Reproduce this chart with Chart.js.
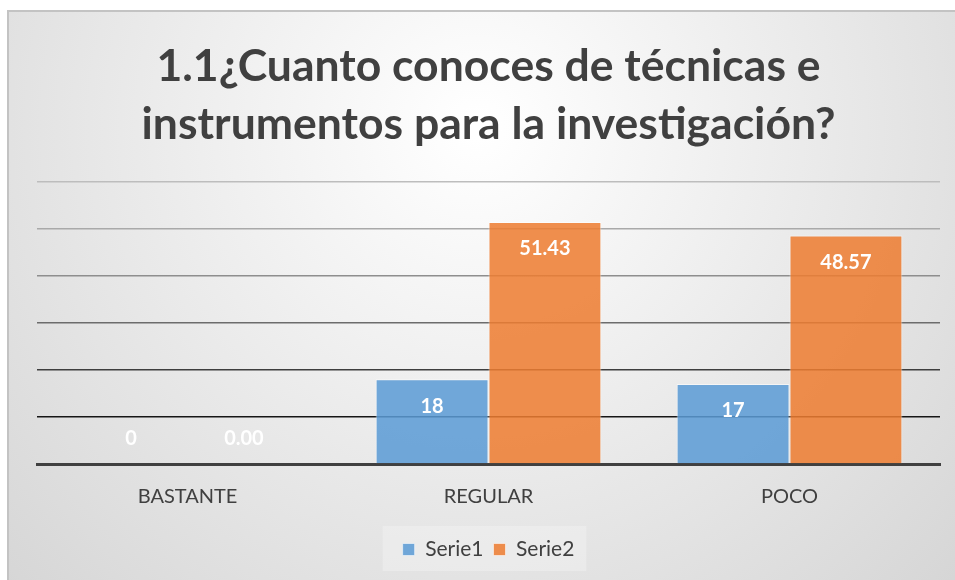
<!DOCTYPE html>
<html>
<head>
<meta charset="utf-8">
<script src="https://cdn.jsdelivr.net/npm/chart.js@4.4.1/dist/chart.umd.min.js"></script>
<style>
html, body { margin: 0; padding: 0; background: #fff; }
#wrap { width: 955px; height: 580px; }
</style>
</head>
<body>
<div id="wrap"><canvas id="myChart"></canvas></div>
<script>
var categories = ["BASTANTE", "REGULAR", "POCO"];
var serie1 = [0, 18, 17];
var serie2 = [0, 51.43, 48.57];
var yMax = 60;
var yStep = 10;
// gridline shade per tick value 0..60 (darker near the bottom)
var gridColors = ["rgba(0,0,0,0)", "#161616", "#3e3e3e", "#6c6c6c", "#8e8e8e", "#a9a9a9", "#bdbdbd"];

var textColor = "#404040";
var fontName = "Lato, 'Open Sans', sans-serif";

// background panel with a soft radial gradient and the thin frame
var panelBg = {
    id: "panelBg",
    beforeDraw: function(chart){
        var ctx = chart.ctx;
        var w = chart.width, h = chart.height;
        ctx.save();
        ctx.fillStyle = "#ffffff";
        ctx.fillRect(0, 0, w, h);
        var g = ctx.createRadialGradient(w * 0.5, h * 0.22, 10, w * 0.5, h * 0.22, w * 0.72);
        g.addColorStop(0, "#ffffff");
        g.addColorStop(1, "#d4d4d4");
        ctx.fillStyle = g;
        ctx.fillRect(7, 10, w, h);
        ctx.strokeStyle = "#c3c3c3";
        ctx.lineWidth = 2;
        ctx.beginPath();
        ctx.moveTo(8, h);
        ctx.lineTo(8, 11);
        ctx.lineTo(w, 11);
        ctx.stroke();
        // light box behind the legend
        var lg = chart.legend;
        if(lg && lg.legendHitBoxes && lg.legendHitBoxes.length){
            var hb = lg.legendHitBoxes;
            var l = hb[0].left, r = hb[hb.length - 1].left + hb[hb.length - 1].width;
            var t = hb[0].top, b = hb[0].top + hb[0].height;
            ctx.fillStyle = "rgba(255,255,255,0.25)";
            ctx.fillRect(l - 20, t - 13, r - l + 32, b - t + 24);
        }
        ctx.restore();
    }
};

// white value labels inside the bar tops
var barLabels = {
    id: "barLabels",
    afterDatasetsDraw: function(chart){
        var ctx = chart.ctx;
        ctx.save();
        ctx.font = "bold 20px " + fontName;
        ctx.fillStyle = "#ffffff";
        ctx.textAlign = "center";
        ctx.textBaseline = "middle";
        chart.data.datasets.forEach(function(ds, i){
            var meta = chart.getDatasetMeta(i);
            meta.data.forEach(function(el, j){
                var v = ds.data[j];
                var txt = i == 1 ? v.toFixed(2) : String(v);
                var y = v > 0 ? el.y + 27 : el.base - 25;
                ctx.fillText(txt, el.x, y);
            });
        });
        ctx.restore();
    }
};

var ctx = document.getElementById('myChart').getContext('2d');
var myChart = new Chart(ctx, {
    type: 'bar',
    data: {
        labels: categories,
        datasets: [{
            label: "Serie1",
            data: serie1,
            backgroundColor: "rgba(91,155,213,0.86)",
            borderColor: "rgba(255,255,255,0.55)",
            borderWidth: 1,
            categoryPercentage: 0.75,
            barPercentage: 1.0
        }, {
            label: "Serie2",
            data: serie2,
            backgroundColor: "rgba(237,125,49,0.86)",
            borderColor: "rgba(255,255,255,0.55)",
            borderWidth: 1,
            categoryPercentage: 0.75,
            barPercentage: 1.0
        }]
    },
    options: {
        responsive: true,
        maintainAspectRatio: false,
        animation: false,
        layout: { padding: { top: 10, left: 37, right: 15, bottom: 10 } },
        scales: {
            x: {
                z: 1,
                grid: { display: false },
                border: { display: true, color: "#404040", width: 3 },
                ticks: { color: textColor, font: { family: fontName, size: 20 }, padding: 13 },
                afterFit: function(scale){ scale.height += 7; }
            },
            y: {
                min: 0,
                max: yMax,
                grid: {
                    drawTicks: false,
                    lineWidth: 1.5,
                    color: function(c){ return gridColors[Math.round(c.tick.value / yStep)] || "#bbb"; }
                },
                border: { display: false },
                ticks: { display: false, stepSize: yStep }
            }
        },
        plugins: {
            title: {
                display: true,
                text: ["1.1¿Cuanto conoces de técnicas e", "instrumentos para la investigación?"],
                color: textColor,
                font: { family: fontName, size: 44.5, weight: "bold", lineHeight: 1.3 },
                padding: { top: 28, bottom: 28 }
            },
            legend: {
                position: "bottom",
                labels: {
                    color: textColor,
                    font: { family: fontName, size: 21 },
                    boxWidth: 12,
                    boxHeight: 12,
                    padding: 10
                }
            },
            tooltip: { enabled: false }
        }
    },
    plugins: [panelBg, barLabels]
});
</script>
</body>
</html>
